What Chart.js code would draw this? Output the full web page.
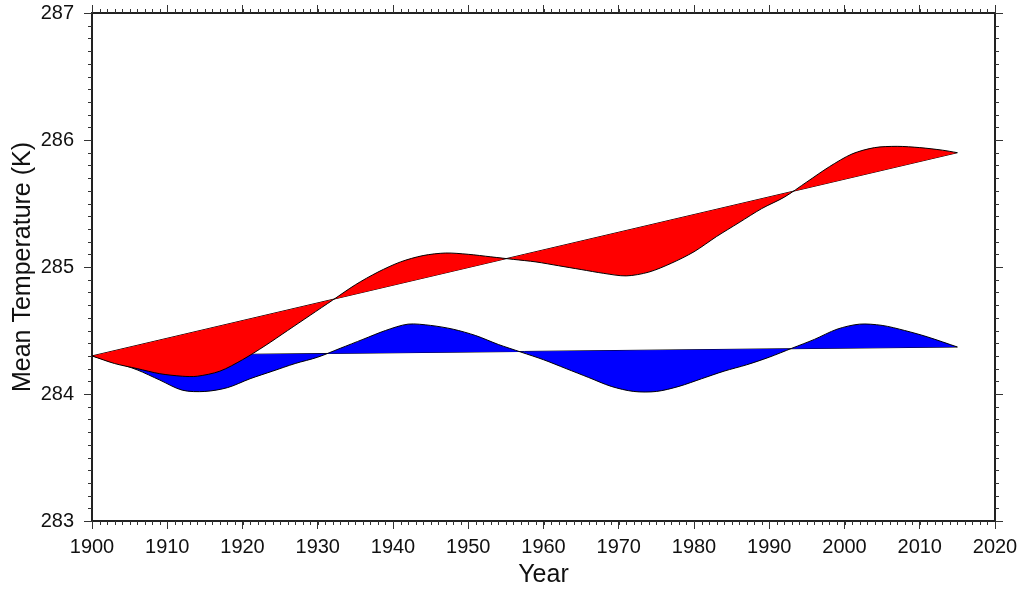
<!DOCTYPE html>
<html>
<head>
<meta charset="utf-8">
<title>Mean Temperature</title>
<script src="https://cdn.jsdelivr.net/npm/chart.js@4.4.1/dist/chart.umd.min.js"></script>
<style>
  html, body { margin: 0; padding: 0; background: #fff; }
  #wrap { width: 1025px; height: 591px; }
</style>
</head>
<body>
<div id="wrap"><canvas id="tempChart" width="1025" height="591"></canvas></div>
<script>
// red curve (with trend) and its straight trend line
const redYears = [1900, 1903, 1906, 1909, 1912, 1914, 1917, 1920, 1923, 1926, 1929, 1932, 1935, 1938, 1941, 1944, 1947, 1950, 1953, 1956, 1959, 1962, 1965, 1968, 1971, 1974, 1977, 1980, 1983, 1986, 1989, 1992, 1995, 1998, 2001, 2004, 2007, 2010, 2013, 2015];
const redTemps = [284.30, 284.24, 284.20, 284.16, 284.14, 284.14, 284.18, 284.27, 284.38, 284.50, 284.62, 284.74, 284.86, 284.96, 285.04, 285.09, 285.11, 285.10, 285.08, 285.06, 285.04, 285.01, 284.98, 284.95, 284.93, 284.96, 285.03, 285.12, 285.24, 285.35, 285.46, 285.55, 285.67, 285.79, 285.89, 285.94, 285.95, 285.94, 285.92, 285.90];
const redTrendYears = [1900, 2015];
const redTrendTemps = [284.30, 285.90];

// blue curve (detrended) and its nearly flat line
const blueYears = [1900, 1903, 1906, 1909, 1912, 1915, 1918, 1921, 1924, 1927, 1930, 1933, 1936, 1939, 1942, 1945, 1948, 1951, 1954, 1957, 1960, 1963, 1966, 1969, 1972, 1975, 1978, 1981, 1984, 1987, 1990, 1993, 1996, 1999, 2002, 2005, 2008, 2011, 2015];
const blueTemps = [284.30, 284.25, 284.19, 284.11, 284.03, 284.02, 284.05, 284.12, 284.18, 284.24, 284.29, 284.36, 284.43, 284.50, 284.55, 284.54, 284.51, 284.46, 284.39, 284.33, 284.27, 284.20, 284.13, 284.06, 284.02, 284.02, 284.06, 284.12, 284.18, 284.23, 284.29, 284.36, 284.43, 284.51, 284.55, 284.54, 284.50, 284.45, 284.37];
const blueTrendYears = [1900, 2015];
const blueTrendTemps = [284.30, 284.37];

const xTicks = [1900, 1910, 1920, 1930, 1940, 1950, 1960, 1970, 1980, 1990, 2000, 2010, 2020];
const yTicks = [283, 284, 285, 286, 287];

function toPoints(xs, ys) {
  return xs.map((x, i) => ({ x: x, y: ys[i] }));
}

const fontFamily = "'Liberation Sans', Arial, Helvetica, sans-serif";
const axisColor = "#222";

// small outward minor ticks on all four sides
const minorTicks = {
  id: "minorTicks",
  afterDraw(chart) {
    const ctx = chart.ctx;
    ctx.save();
    ctx.strokeStyle = "#333";
    ctx.lineWidth = 1;
    ctx.beginPath();
    ["x", "x2"].forEach((id) => {
      const s = chart.scales[id];
      for (let v = s.min; v <= s.max; v++) {
        const px = Math.round(s.getPixelForValue(v)) + 0.5;
        const y0 = id === "x" ? s.top : s.bottom;
        const y1 = id === "x" ? y0 + 4 : y0 - 4;
        ctx.moveTo(px, y0);
        ctx.lineTo(px, y1);
      }
    });
    ["y", "y2"].forEach((id) => {
      const s = chart.scales[id];
      for (let i = 0; i <= 40; i++) {
        const py = Math.round(s.getPixelForValue(s.min + i / 10)) + 0.5;
        const x0 = id === "y" ? s.right : s.left;
        const x1 = id === "y" ? x0 - 4 : x0 + 4;
        ctx.moveTo(x0, py);
        ctx.lineTo(x1, py);
      }
    });
    ctx.stroke();
    ctx.restore();
  },
};

function sideAxis(position, size) {
  return {
    type: "linear",
    position: position,
    border: { display: true, color: axisColor, width: 2 },
    grid: { drawOnChartArea: false, drawTicks: true, tickLength: 8, color: "#333", lineWidth: 1 },
    afterFit(scale) {
      if (scale.isHorizontal()) scale.height = size;
      else scale.width = size;
      // keep the plot box fixed, labels may hang over the edges
      scale.paddingTop = 0;
      scale.paddingBottom = 0;
      scale.paddingLeft = 0;
      scale.paddingRight = 0;
    },
  };
}

const xAxis = Object.assign(sideAxis("bottom", 70), {
  min: 1900,
  max: 2020,
  afterBuildTicks(scale) {
    scale.ticks = xTicks.map((v) => ({ value: v }));
  },
  ticks: {
    color: "#111",
    font: { family: fontFamily, size: 20 },
    padding: 6,
    maxRotation: 0,
    callback: (v) => String(v),
  },
  title: { display: true, text: "Year", color: "#111", font: { family: fontFamily, size: 25 }, padding: { top: 0, bottom: 1 } },
});

const x2Axis = Object.assign(sideAxis("top", 13), {
  min: 1900,
  max: 2020,
  afterBuildTicks(scale) {
    scale.ticks = xTicks.map((v) => ({ value: v }));
  },
  ticks: { display: false },
});

const yAxis = Object.assign(sideAxis("left", 92), {
  min: 283,
  max: 287,
  afterBuildTicks(scale) {
    scale.ticks = yTicks.map((v) => ({ value: v }));
  },
  ticks: { color: "#111", font: { family: fontFamily, size: 20 }, padding: 10, callback: (v) => String(v) },
  title: { display: true, text: "Mean Temperature (K)", color: "#111", font: { family: fontFamily, size: 25 }, padding: { top: 8, bottom: 0 } },
});

const y2Axis = Object.assign(sideAxis("right", 30), {
  min: 283,
  max: 287,
  afterBuildTicks(scale) {
    scale.ticks = yTicks.map((v) => ({ value: v }));
  },
  ticks: { display: false },
});

const ctx = document.getElementById("tempChart").getContext("2d");

new Chart(ctx, {
  type: "line",
  data: {
    datasets: [
      {
        label: "Temperature",
        data: toPoints(redYears, redTemps),
        borderColor: "#000",
        borderWidth: 1,
        backgroundColor: "#ff0000",
        fill: "+1",
        pointRadius: 0,
        tension: 0.3,
      },
      {
        label: "Trend",
        data: toPoints(redTrendYears, redTrendTemps),
        borderColor: "#000",
        borderWidth: 1,
        fill: false,
        pointRadius: 0,
      },
      {
        label: "Detrended",
        data: toPoints(blueYears, blueTemps),
        borderColor: "#000",
        borderWidth: 1,
        backgroundColor: "#0000ff",
        fill: "+1",
        pointRadius: 0,
        tension: 0.3,
      },
      {
        label: "Detrended trend",
        data: toPoints(blueTrendYears, blueTrendTemps),
        borderColor: "#000",
        borderWidth: 1,
        fill: false,
        pointRadius: 0,
      },
    ],
  },
  options: {
    responsive: false,
    animation: false,
    devicePixelRatio: 1,
    layout: { padding: 0 },
    plugins: {
      legend: { display: false },
      tooltip: { enabled: false },
    },
    scales: {
      x: xAxis,
      x2: x2Axis,
      y: yAxis,
      y2: y2Axis,
    },
  },
  plugins: [minorTicks],
});
</script>
</body>
</html>
